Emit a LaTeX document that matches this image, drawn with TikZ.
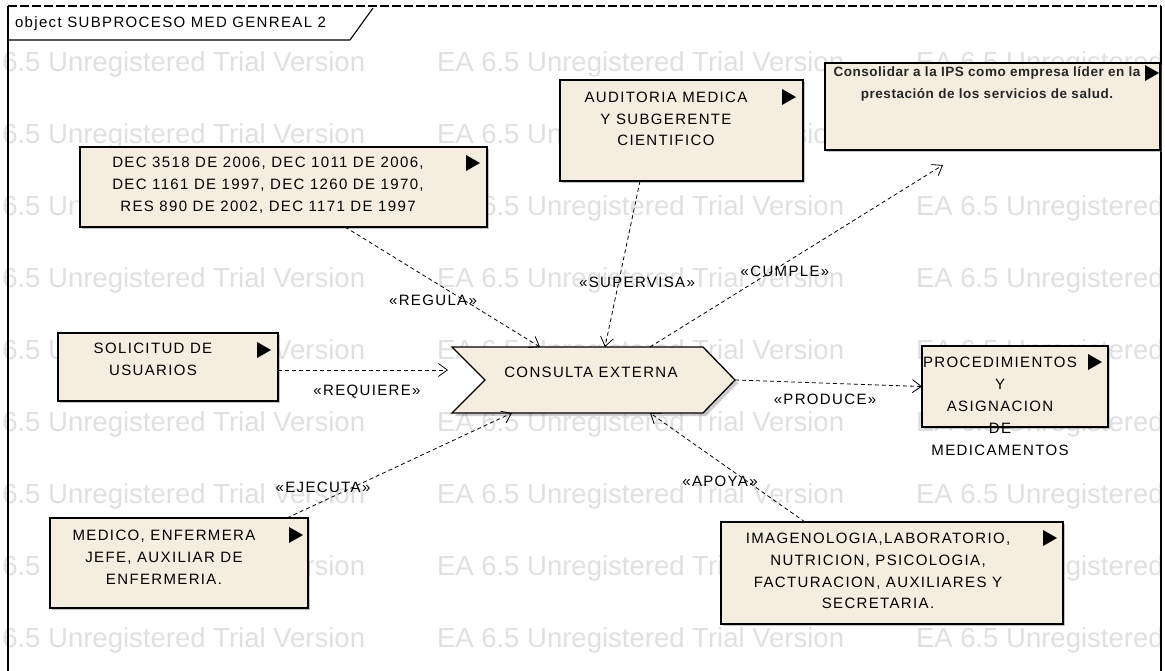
\documentclass[tikz,border=0pt]{standalone}
\usepackage{fontspec}
\setmainfont{Liberation Sans}
\usetikzlibrary{arrows.meta,shadows,calc}
\definecolor{boxfill}{HTML}{F6EDE1}
\definecolor{wmark}{HTML}{E0E0E0}

\begin{document}
\begin{tikzpicture}[x=1pt,y=-1pt,
  every node/.style={inner sep=0pt,outer sep=0pt},
  txt/.style={font=\fontsize{15}{21.8}\selectfont\addfontfeature{LetterSpace=9},align=center,text=black},
  small/.style={font=\fontsize{13.5}{22}\selectfont\bfseries\addfontfeature{LetterSpace=4},align=center,text=black!85},
  lbl/.style={font=\fontsize{15}{18}\selectfont\addfontfeature{LetterSpace=9},text=black},
  wm/.style={font=\fontsize{27.5}{30}\selectfont,text=wmark,anchor=west},
  elem/.style={draw=black,line width=1.3pt,fill=boxfill,anchor=north west,
    drop shadow={shadow xshift=2pt,shadow yshift=-2pt,opacity=0.45}},
  dep/.style={draw=black,line width=0.8pt,dash pattern=on 4pt off 3pt,
    -{Straight Barb[length=9pt,width=13pt,line width=0.8pt]}},
  frameline/.style={draw=black,line width=1.4pt}
]
\useasboundingbox (0,0) rectangle (1165,671);
\fill[white] (0,0) rectangle (1165,671);

% evaluation-version watermark rows
\foreach \r in {0,...,8}{
  \foreach \c in {0,1,2}{
    \node[wm] at ({-42+479*\c},{64+72*\r}) {EA 6.5 Unregistered Trial Version};
  }
}

% diagram frame with title tab
\draw[frameline] (8,671) -- (8,6);
\draw[frameline] (1161,6) -- (1161,671);
\draw[draw=black,line width=1.2pt,dash pattern=on 9pt off 3pt] (8,6) -- (1161,6);
\draw[draw=black,line width=1.1pt] (8,40) -- (350,40) -- (373,8);
\node[txt,anchor=west] (title) at (15,24) {object SUBPROCESO MED GENREAL 2};

% elements
\node[elem,minimum width=407pt,minimum height=80pt] (dec) at (80,147) {};
\node[elem,minimum width=243pt,minimum height=101pt] (aud) at (560,80) {};
\node[elem,minimum width=335pt,minimum height=87pt] (cons) at (825,63) {};
\node[elem,minimum width=220pt,minimum height=68pt] (sol) at (58,333) {};
\node[elem,minimum width=186pt,minimum height=81pt] (proc) at (922,346) {};
\node[elem,minimum width=258pt,minimum height=90pt] (med) at (50,518) {};
\node[elem,minimum width=342pt,minimum height=102pt] (img) at (721,522) {};

% activity chevron
\node[minimum width=283pt,minimum height=66pt] (consulta) at (593.5,380) {};
\path[draw=black,line width=1.3pt,fill=boxfill,
      drop shadow={shadow xshift=3pt,shadow yshift=-3pt,opacity=0.4}]
  (consulta.north west) -- ($(consulta.west)+(33,0)$) -- (consulta.south west)
  -- ($(consulta.south east)+(-32,0)$) -- (consulta.east)
  -- ($(consulta.north east)+(-32,0)$) -- cycle;

% element texts
\node[txt] (decT) at (268,185) {DEC 3518 DE 2006, DEC 1011 DE 2006,\\DEC 1161 DE 1997, DEC 1260 DE 1970,\\RES 890 DE 2002, DEC 1171 DE 1997};
\node[txt] (audT) at (666,119) {AUDITORIA MEDICA\\Y SUBGERENTE\\CIENTIFICO};
\node[small] (consT) at (987,84) {Consolidar a la IPS como empresa líder en la\\prestación de los servicios de salud.};
\node[txt] (solT) at (153,359) {SOLICITUD DE\\USUARIOS};
\node[txt] (consultaT) at (591,372) {CONSULTA EXTERNA};
\node[txt,font=\fontsize{15}{22}\selectfont\addfontfeature{LetterSpace=9}] (procT) at (1000,406) {PROCEDIMIENTOS\\Y\\ASIGNACION\\DE\\MEDICAMENTOS};
\node[txt] (medT) at (164,557) {MEDICO, ENFERMERA\\JEFE, AUXILIAR DE\\ENFERMERIA.};
\node[txt] (imgT) at (878,571) {IMAGENOLOGIA,LABORATORIO,\\NUTRICION, PSICOLOGIA,\\FACTURACION, AUXILIARES Y\\SECRETARIA.};

% element marks
\foreach \px/\py in {473/163, 789/97, 1152/73, 264/350, 1095/362, 296/535, 1050/538}{
  \fill[black] (\px-7,\py-8) -- (\px+7,\py) -- (\px-7,\py+8) -- cycle;
}

% connector end points
\coordinate (decOut) at ($(dec.south west)+(265,0)$);
\coordinate (audOut) at ($(aud.south west)+(80,0)$);
\coordinate (medOut) at ($(med.north west)+(237,0)$);
\coordinate (imgOut) at ($(img.north west)+(84,0)$);
\coordinate (solOut) at ($(sol.east)+(0,3)$);
\coordinate (regIn) at ($(consulta.north west)+(88,0)$);
\coordinate (supIn) at ($(consulta.north west)+(153,0)$);
\coordinate (cumOut) at ($(consulta.north west)+(198,0)$);
\coordinate (ejeIn) at ($(consulta.south west)+(60,0)$);
\coordinate (apoIn) at ($(consulta.south west)+(198,0)$);
\coordinate (reqIn) at ($(consulta.west)+(-4,-10)$);
\coordinate (cumIn) at ($(cons.south west)+(118,15)$);

% dependencies
\draw[dep] (decOut) -- (regIn);
\draw[dep] (audOut) -- (supIn);
\draw[dep] (cumOut) -- (cumIn);
\draw[dep] (solOut) -- (reqIn);
\draw[dep] (consulta.east) -- (proc.west);
\draw[dep] (medOut) -- (ejeIn);
\draw[dep] (imgOut) -- (apoIn);

% stereotype labels
\node[lbl] (lReg) at (433,300) {«REGULA»};
\node[lbl] (lSup) at (637,282) {«SUPERVISA»};
\node[lbl] (lCum) at (785,271) {«CUMPLE»};
\node[lbl] (lReq) at (367,392) {«REQUIERE»};
\node[lbl] (lPro) at (825,399) {«PRODUCE»};
\node[lbl] (lEje) at (323,487) {«EJECUTA»};
\node[lbl] (lApo) at (720,481) {«APOYA»};
\end{tikzpicture}
\end{document}
